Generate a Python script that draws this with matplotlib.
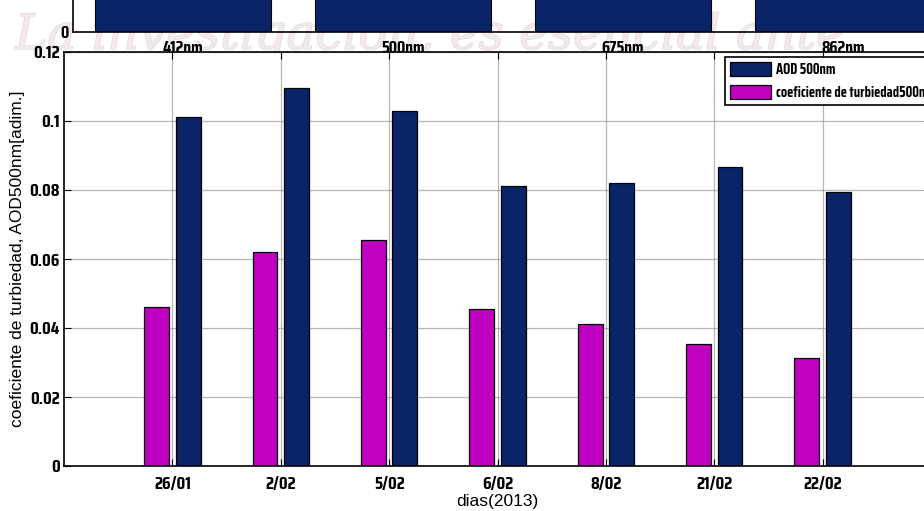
import numpy as np
from matplotlib import pyplot as plt
from matplotlib import font_manager
import matplotlib.patheffects as pe

_names = {f.name for f in font_manager.fontManager.ttflist}


def first_font(candidates):
    for name in candidates:
        if name in _names:
            return name
    return "DejaVu Sans"


# narrow bold face for ticks / legend, plain sans for axis labels
NARROW = first_font(["Saira Extra Condensed", "Saira Condensed", "Pathway Gothic One",
                     "Antonio", "Oswald", "Roboto Condensed", "Barlow Condensed",
                     "Archivo Narrow", "PT Sans Narrow", "Liberation Sans Narrow"])
PLAIN = first_font(["Liberation Sans", "Arimo"])

# daily values
days = ["26/01", "2/02", "5/02", "6/02", "8/02", "21/02", "22/02"]
aod_500 = [0.1013, 0.1095, 0.1029, 0.0812, 0.0821, 0.0866, 0.0794]
turbidity_500 = [0.0462, 0.0621, 0.0655, 0.0456, 0.0412, 0.0353, 0.0313]

# spectral AOD panel above (only its base is shown)
wavelengths = ["412nm", "500nm", "675nm", "862nm"]
aod_spectral = [0.13, 0.11, 0.08, 0.06]

NAVY = "#0a2468"
MAGENTA = "#c000c0"
GRID = "#8c8c8c"

W, H = 924, 511


def px_rect(left, top, right, bottom):
    return [left / W, 1 - bottom / H, (right - left) / W, (bottom - top) / H]


fig = plt.figure(figsize=(W / 100, H / 100), dpi=100)
fig.patch.set_facecolor("white")

# banner text behind everything
wm = fig.text(15 / W, 1 - 49 / H, "La investigación, es esencial ante.",
              family="DejaVu Serif", style="italic", fontsize=30,
              color="#f3e8ea", ha="left", va="baseline", zorder=-1,
              path_effects=[pe.withStroke(linewidth=0.9, foreground="#e4d6d9")])
fig.canvas.draw()
w = wm.get_window_extent().width
wm.set_fontsize(30 * 845 / w)

# upper panel
ax_top = fig.add_axes(px_rect(73, 31.7 - 414, 953, 31.7))
ax_top.set_facecolor("none")
xt = np.arange(1, len(wavelengths) + 1)
ax_top.bar(xt, aod_spectral, width=0.8, color=NAVY, edgecolor="black", linewidth=0.8)
ax_top.set_xlim(0.5, 4.5)
ax_top.set_ylim(0, 0.12)
ax_top.set_xticks(xt)
ax_top.set_xticklabels(wavelengths)
ax_top.set_yticks([0])
ax_top.set_yticklabels(["0"])
ax_top.tick_params(length=0, labelsize=12.5)
ax_top.tick_params(axis="x", pad=6)
ax_top.tick_params(axis="y", pad=3)
for lab in ax_top.get_xticklabels() + ax_top.get_yticklabels():
    lab.set_family(NARROW)
    lab.set_weight("bold")
for side in ["top", "right"]:
    ax_top.spines[side].set_visible(False)
for side in ["left", "bottom"]:
    ax_top.spines[side].set_linewidth(1.2)

# main panel
ax = fig.add_axes(px_rect(64, 52, 931, 466))
x = np.arange(1, len(days) + 1)
bw = 0.23
b_turb = ax.bar(x - 0.145, turbidity_500, width=bw, color=MAGENTA,
                edgecolor="black", linewidth=0.9, zorder=2,
                label="coeficiente de turbiedad500nm")
b_aod = ax.bar(x + 0.145, aod_500, width=bw, color=NAVY,
               edgecolor="black", linewidth=0.9, zorder=2, label="AOD 500nm")

ax.set_xlim(0, 8)
ax.set_ylim(0, 0.12)
ax.set_xticks(x)
ax.set_xticklabels(days)
yt = [0, 0.02, 0.04, 0.06, 0.08, 0.1, 0.12]
ax.set_yticks(yt)
ax.set_yticklabels(["0", "0.02", "0.04", "0.06", "0.08", "0.1", "0.12"])
ax.tick_params(axis="both", direction="in", length=5, width=0.8,
               top=True, right=True, labelsize=13)
ax.tick_params(axis="x", pad=7)
ax.tick_params(axis="y", pad=3)
for lab in ax.get_xticklabels() + ax.get_yticklabels():
    lab.set_family(NARROW)
    lab.set_weight("bold")
ax.grid(True, color=GRID, linestyle=(0, (1, 0.6)), linewidth=0.9, zorder=0)
ax.set_axisbelow(True)
for sp in ax.spines.values():
    sp.set_linewidth(1.2)

ax.set_xlabel("dias(2013)", family=PLAIN, fontsize=12.5, va="top")
ax.xaxis.set_label_coords(0.5, (466 - 494) / 414)
ax.set_ylabel("coeficiente de turbiedad, AOD500nm[adim.]", family=PLAIN,
              fontsize=12.5, va="bottom")
ax.yaxis.set_label_coords((25 - 64) / 867, 0.5)

leg = ax.legend(handles=[b_aod, b_turb], loc="upper left",
                bbox_to_anchor=((725 - 64) / 867, (466 - 57) / 414),
                borderaxespad=0, fancybox=False, framealpha=1,
                edgecolor="black", handlelength=2.9, handleheight=1.1,
                handletextpad=0.3, labelspacing=0.6, borderpad=0.35,
                prop={"family": NARROW, "weight": "bold", "size": 10.3})
leg.get_frame().set_linewidth(1.2)

fig.savefig("out.png", dpi=100)
